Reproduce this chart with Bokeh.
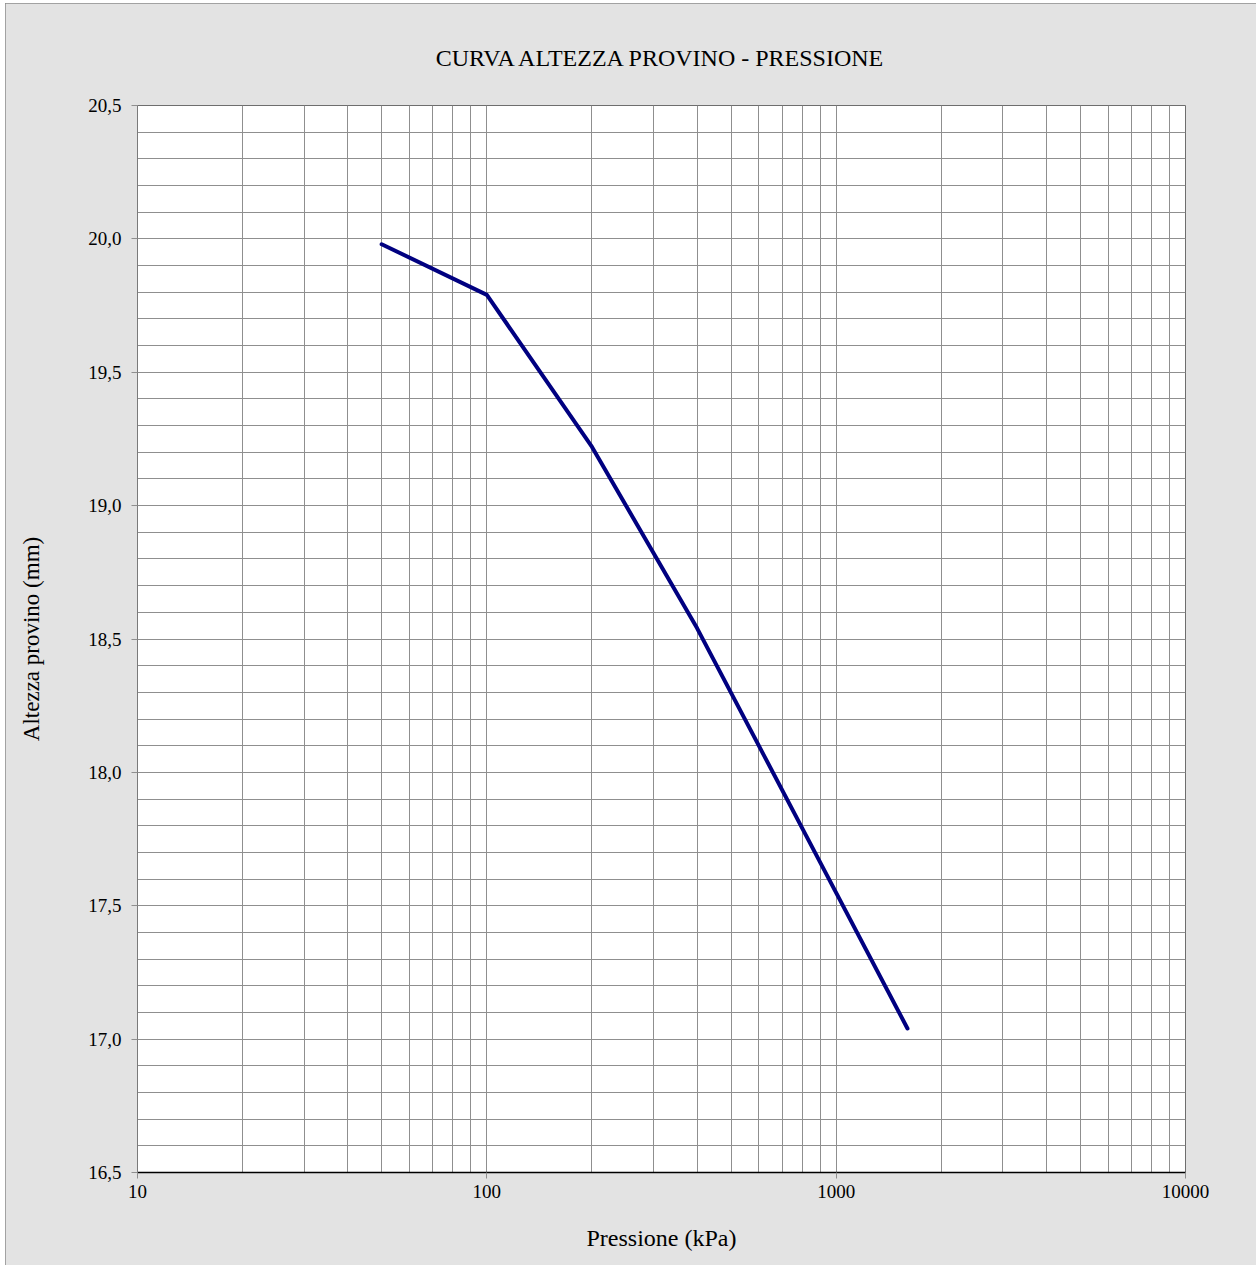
from bokeh.plotting import figure
from bokeh.models import FixedTicker, SingleIntervalTicker, CustomJSTickFormatter
from bokeh.embed import file_html
from bokeh.resources import INLINE

# Data
pressione = [50, 100, 200, 400, 800, 1600]          # kPa
altezza = [19.98, 19.79, 19.22, 18.54, 17.79, 17.04]  # mm

x_major_ticks = [10, 100, 1000, 10000]
x_minor_ticks = [m * 10 ** k for k in range(1, 4) for m in range(2, 10)]

title_text = "CURVA ALTEZZA PROVINO - PRESSIONE"
x_label = "Pressione (kPa)"
y_label = "Altezza provino (mm)"

FONT = "Liberation Serif"
GRID = "#8f8f8f"
BG = "#e3e3e3"

p = figure(width=1251, height=1262, x_axis_type="log",
           x_range=(10, 10000), y_range=(16.5, 20.5),
           output_backend="svg", toolbar_location=None,
           min_border_left=132, min_border_right=71,
           min_border_top=102, min_border_bottom=93)
p.margin = (3, 0, 0, 5)
p.styles = {"outline": "2px solid #8c8c8c", "outline-offset": "-2px"}
p.border_fill_color = BG
p.background_fill_color = "white"
p.outline_line_color = "#6e6e6e"
p.outline_line_width = 1

p.title.text = title_text
p.title.align = "center"
p.title.text_font = FONT
p.title.text_font_size = "24px"
p.title.text_font_style = "normal"
p.title.text_color = "black"
p.title.standoff = 70

# x axis
p.xaxis.ticker = FixedTicker(ticks=x_major_ticks, minor_ticks=x_minor_ticks)
p.xaxis.formatter = CustomJSTickFormatter(code="return tick.toFixed(0);")
p.xaxis.axis_line_color = "black"
p.xaxis.axis_line_width = 1.5
p.xaxis.major_tick_line_color = GRID
p.xaxis.major_tick_out = 6
p.xaxis.major_tick_in = 0
p.xaxis.minor_tick_line_color = None
p.xaxis.major_label_standoff = 6
p.xaxis.axis_label = x_label
p.xaxis.axis_label_standoff = 24
p.xaxis.axis_label_text_font_size = "24px"

# y axis
p.yaxis.ticker = SingleIntervalTicker(interval=0.5, num_minor_ticks=5)
p.yaxis.formatter = CustomJSTickFormatter(code="return tick.toFixed(1).replace('.', ',');")
p.yaxis.axis_line_color = "#7a7a7a"
p.yaxis.major_tick_line_color = GRID
p.yaxis.major_tick_out = 6
p.yaxis.major_tick_in = 0
p.yaxis.minor_tick_line_color = None
p.yaxis.major_label_standoff = 10
p.yaxis.axis_label = y_label
p.yaxis.axis_label_standoff = 41
p.yaxis.axis_label_text_font_size = "23px"

for ax in (p.xaxis, p.yaxis):
    ax.major_label_text_font = FONT
    ax.major_label_text_font_size = "19px"
    ax.major_label_text_color = "black"
    ax.axis_label_text_font = FONT
    ax.axis_label_text_font_style = "normal"
    ax.axis_label_text_color = "black"

# grids
p.xgrid.ticker = p.xaxis.ticker
p.ygrid.ticker = p.yaxis.ticker
for g in (p.xgrid, p.ygrid):
    g.grid_line_color = GRID
    g.grid_line_width = 1
    g.minor_grid_line_color = GRID
    g.minor_grid_line_width = 1

p.line(pressione, altezza, line_color="#000080", line_width=4,
       line_cap="round", line_join="round")

open("out.html", "w").write(file_html(p, INLINE))
